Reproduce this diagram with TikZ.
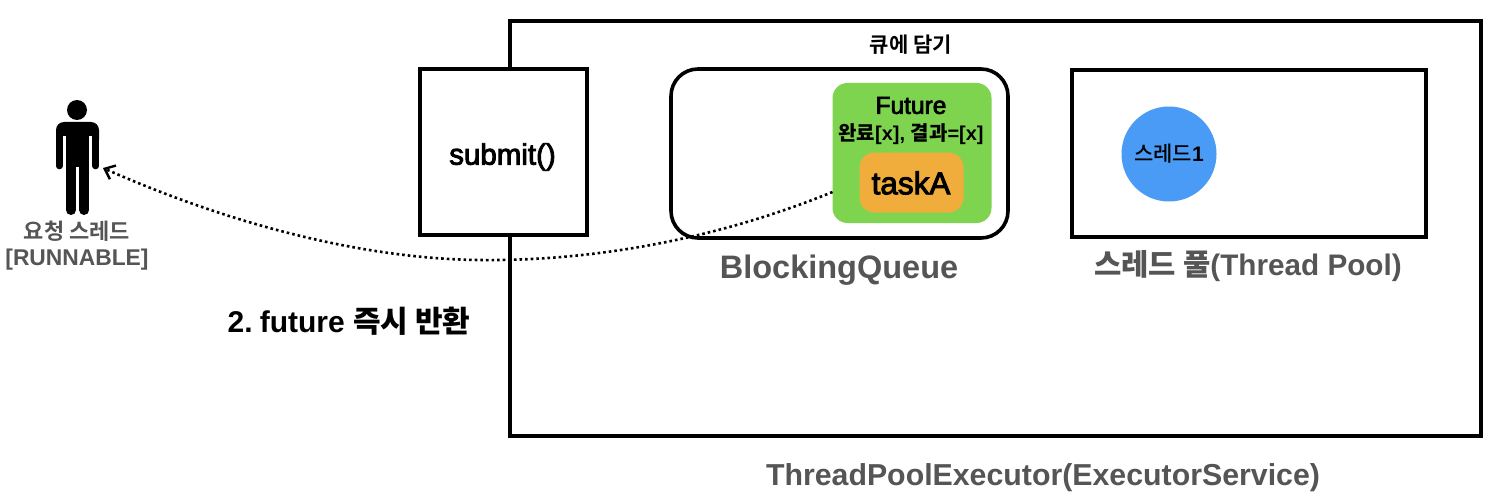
\documentclass[tikz,border=0pt]{standalone}
\usepackage{fontspec}
\setmainfont{Liberation Sans}
\newfontfamily\krb{Noto Sans CJK KR Bold}
\newfontfamily\krm{Noto Sans CJK KR Medium}
\newfontfamily\medi[FakeBold=3]{Liberation Sans}
\newcommand{\fs}[1]{\fontsize{#1}{#1}\selectfont}
\definecolor{fgreen}{HTML}{7ED44F}
\definecolor{forange}{HTML}{F0AD3C}
\definecolor{fblue}{HTML}{4A9BF5}
\definecolor{gtext}{HTML}{555555}
\usetikzlibrary{arrows.meta}
\tikzset{
  frame/.style={draw=black,line width=3.6pt,outer sep=0pt,inner sep=0pt,anchor=north west},
  lbl/.style={inner sep=0pt,text=gtext},
  blk/.style={inner sep=0pt,text=black},
  limb/.style={draw=black,line cap=round,line width=#1},
  ret/.style={dash pattern=on 2.6pt off 3pt,line width=2.6pt,-{Straight Barb[length=9pt,width=15pt,line width=2.4pt]}}
}
\begin{document}
\begin{tikzpicture}[x=1pt,y=-1pt]
\useasboundingbox (0,0) rectangle (1504,500);
\fill[white] (0,0) rectangle (1504,500);
% outer executor
\node[frame,minimum width=971pt,minimum height=415pt] (exec) at (510,21) {};
\node[frame,fill=white,minimum width=167pt,minimum height=166pt] (submit) at (420,69) {};
\node[blk,font=\medi\fs{29.5}] at (502.5,157) {submit()};
\node[frame,fill=white,rounded corners=27pt,minimum width=337pt,minimum height=169pt] (queue) at (671,69) {};
\node[frame,minimum width=354pt,minimum height=167pt] (pool) at (1072,70) {};
\node[fill=fgreen,rounded corners=15pt,minimum width=159pt,minimum height=140pt,inner sep=0pt,outer sep=0pt,anchor=north west] (future) at (832.5,83) {};
\node[fill=forange,rounded corners=15pt,minimum width=104pt,minimum height=60pt,inner sep=0pt,outer sep=0pt,anchor=north west] (task) at (859.5,152.5) {};
\node[blk,font=\medi\fs{24.5}] at (911,105.5) {Future};
\node[blk,font=\bfseries\fs{20}] at (911,134) {{\krb 완료}[x], {\krb 결과}=[x]};
\node[blk,font=\medi\fs{31.5}] at (911,183) {taskA};
\node[circle,fill=fblue,minimum size=95pt,inner sep=0pt] (th) at (1169,154) {};
\node[blk] at (1169,154) {{\krm\fs{21}스레드}{\bfseries\fs{21}1}};
\node[blk] at (911,45) {\krb\fs{21}큐에 담기};
\node[lbl,font=\fs{32.5}\bfseries] at (839,270) {BlockingQueue};
\node[lbl,font=\fs{29.7}\bfseries] at (1248,266) {{\krb 스레드 풀}(Thread Pool)};
\node[lbl,font=\fs{30.3}\bfseries] at (1043,478) {ThreadPoolExecutor(ExecutorService)};
\node[lbl] at (77,231) {\krb\fs{22}요청 스레드};
\node[lbl,font=\fs{22.8}\bfseries] at (77,260) {[RUNNABLE]};
\node[blk,font=\fs{30}\bfseries] at (349,321) {2.\hspace{-4pt} future {\krb 즉시 반환}};
% person
\fill[black] (77,110) circle (10pt);
\fill[black,rounded corners=8pt] (56,122) rectangle (99,148);
\fill[white] (62.6,136) rectangle (66,170);
\fill[white] (89.3,136) rectangle (92.7,170);
\draw[limb=6.6pt] (59.3,135) -- (59.3,166);
\draw[limb=6.6pt] (95.7,135) -- (95.7,166);
\fill[black] (66,130) rectangle (89.3,167);
\draw[limb=10pt] (71,160) -- (71,210);
\draw[limb=10pt] (84.3,160) -- (84.3,210);
\coordinate (person) at (103,168);
\draw[ret] (future.west |- 0,192) .. controls (690,250) and (560,261) .. (480,260) .. controls (360,259) and (225,222) .. (person);
\end{tikzpicture}
\end{document}
